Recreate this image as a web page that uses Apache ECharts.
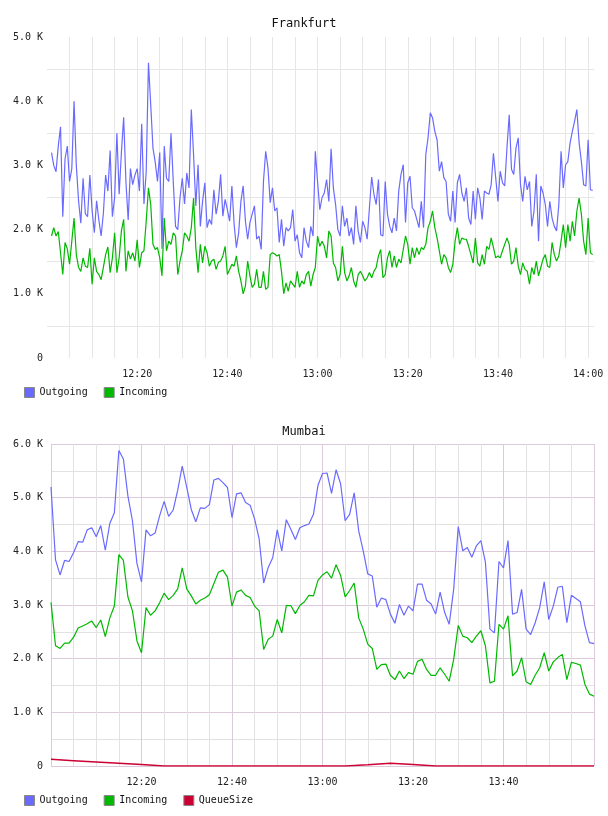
<!DOCTYPE html>
<html>
<head>
<meta charset="utf-8">
<script src="https://cdn.jsdelivr.net/npm/echarts@6/dist/echarts.min.js"></script>
<style>
  html, body { margin: 0; padding: 0; background: #fff; }
  .chart { width: 608px; height: 408px; }
</style>
</head>
<body>
<div id="frankfurt" class="chart"></div>
<div id="mumbai" class="chart"></div>
<script>
// Frankfurt: samples every ~30s from 12:01 to 14:01
const fraOutgoing = [
  3200, 3000, 2900, 3300, 3600, 2200, 3100, 3300, 2750, 2950, 4000, 3000, 2450, 2100, 2800, 2250, 2200, 2850,
  2300, 1950, 2450, 2150, 1900, 2250, 2850, 2600, 3230, 2200, 2500, 3500, 2550, 3200, 3750, 2750, 2150, 2950, 2700, 2850,
  2950, 2600, 3650, 2400, 2900, 4600, 3950, 3270, 3050, 2750, 3200, 1700, 3300, 2800, 2750, 3500, 2750, 2050, 2000, 2500, 2800, 2400,
  2880, 2650, 3870, 3170, 2370, 3010, 2050, 2440, 2730, 2030, 2160, 2080, 2620, 2240, 2440, 2860, 2210, 2470, 2310, 2130,
  2680, 2080, 1720, 1950, 2440, 2680, 2130, 1850, 2110, 2240, 2370, 1850, 1900, 1690, 2750, 3220, 2960, 2420, 2650, 2290,
  2340, 1800, 2160, 1740, 2030, 1980, 2030, 2310, 1820, 1920, 1640, 1560, 2030, 1820, 1720, 2050, 1900, 3220, 2750, 2310, 2500,
  2570, 2780, 2440, 3260, 2650, 2390, 2000, 1900, 2370, 2050, 2180, 1900, 2030, 1770, 2370, 1980, 1800, 2130,
  2030, 1850, 2340, 2820, 2550, 2390, 2780, 1920, 1900, 2750, 2240, 2050, 1950, 2180, 1980, 2600, 2860, 3010, 2110,
  2730, 2830, 2340, 2290, 2160, 2030, 2440, 2030, 3170, 3430, 3820, 3740, 3530, 3400, 2910, 3060, 2810, 2750, 2240, 2130,
  2600, 2110, 2730, 2860,
  2570, 2440, 2650, 2180, 2080, 2600, 2160, 2650, 2490, 2160, 2600, 2570, 2550, 2700, 3190, 2810, 2440, 2910, 2730, 2680,
  3270, 3790, 2940, 2860, 3270, 3430, 2700, 2440, 2830, 2620, 2750, 2050, 2290, 2860, 1820, 2680, 2570, 2390, 2050, 2440,
  2180, 2050, 1980, 2390, 3220, 2650, 3010, 3060, 3350, 3530, 3690, 3870, 3350, 3060, 2700, 2680, 3400, 2620, 2610
];
const fraIncoming = [
  1900, 2030, 1900, 1970, 1640, 1300, 1800, 1700, 1460, 1820, 2180,
  1610, 1410, 1350, 1560, 1430, 1410, 1710, 1150, 1560, 1350, 1300, 1220, 1410, 1610, 1730, 1330, 1560, 1950, 1330,
  1560, 1980, 2160, 1350, 1670, 1540, 1640, 1510, 1840, 1410, 1640, 1670, 2130, 2650,
  2390, 1770, 1690, 1720, 1560, 1280, 2180, 1670, 1820, 1770, 1950, 1900, 1300, 1510, 1670, 1950,
  1900, 1820, 2030, 2490, 1720, 1330, 1770, 1480, 1740, 1640, 1430, 1510, 1540, 1380, 1490, 1510, 1590, 1740, 1300, 1380,
  1460, 1430, 1590, 1350, 1200, 1000, 1120, 1510, 1280, 1100, 1150, 1380, 1100, 1100, 1350, 1070, 1100, 1610, 1640, 1620,
  1590, 1610, 1350, 1000, 1170, 1040, 1200, 1150, 1100, 1350, 1100, 1200, 1150, 1300, 1350, 1120, 1300, 1410, 1900, 1740, 1820,
  1740, 1560, 1980, 1900, 1480, 1410, 1200, 1300, 1740, 1330, 1200, 1280, 1410, 1200, 1100, 1300, 1350, 1280, 1200, 1250,
  1330, 1250, 1350, 1410, 1590, 1690, 1250, 1300, 1560, 1670, 1410, 1590, 1410, 1540, 1480, 1690, 1900, 1770, 1460, 1720,
  1560, 1720, 1610, 1720, 1690, 1770, 2030, 2130, 2290, 2030, 1870, 1670, 1460, 1610, 1560, 1410, 1330, 1460, 1820, 2030, 1770,
  1870, 1850, 1850, 1740, 1610, 1480, 1870, 1480, 1430, 1610, 1460, 1740, 1690, 1870, 1720, 1560, 1590, 1560, 1670, 1770,
  1870, 1770, 1460, 1510, 1720, 1430, 1300, 1480, 1380, 1350, 1150, 1410, 1300, 1510, 1280, 1410, 1540, 1610, 1430, 1410,
  1800, 1610, 1510, 1590, 1820, 2080, 1720, 2080, 1820, 2130, 1900, 2290, 2490, 2240, 1820, 1610, 2180, 1640, 1610
];

// Mumbai: one sample per minute, 12:00 to 14:00; queue every 5 minutes
const mumOutgoing = [
  5200, 3840, 3560, 3830, 3810, 3980, 4180, 4170, 4400, 4440, 4270, 4480, 4020, 4520, 4720, 5880, 5720, 5030, 4570, 3770,
  3430, 4400, 4290, 4340, 4660, 4930, 4650, 4770, 5140, 5590, 5190, 4780, 4550, 4810, 4800, 4870, 5330, 5360, 5280, 5190,
  4630, 5070, 5090, 4910, 4860, 4600, 4230, 3410, 3700, 3880, 4400, 4010, 4590, 4410, 4220, 4440,
  4480, 4510, 4690, 5230, 5450, 5460, 5080, 5520, 5260, 4570, 4690, 5090, 4380, 4010, 3580, 3540, 2960, 3130, 3100, 2830,
  2660, 3010, 2810, 2980, 2890, 3390, 3390, 3090, 3020, 2830, 3240, 2860, 2640, 3300, 4460, 4010, 4070, 3890, 4100, 4200,
  3800, 2550, 2480, 3810, 3690, 4200, 2830, 2860, 3290, 2550, 2450, 2670, 2950, 3430, 2730, 2980, 3330, 3350, 2670, 3180,
  3120, 3060, 2610, 2300, 2280
];
const mumIncoming = [
  3050, 2240, 2190, 2290, 2290, 2400, 2570, 2610, 2650, 2700, 2580, 2720, 2410, 2760, 2980, 3940, 3830, 3150, 2890, 2330,
  2110, 2950, 2810, 2890, 3040, 3220, 3100, 3180, 3300, 3690, 3300, 3170, 3020, 3090, 3130, 3190, 3400, 3610, 3650, 3520,
  2980, 3240, 3280, 3180, 3140, 2980, 2890, 2170, 2360, 2420, 2730, 2480, 2990, 2990, 2840, 2990,
  3060, 3180, 3170, 3460, 3560, 3620, 3500, 3750, 3550, 3150, 3270, 3410, 2760, 2550, 2270, 2190, 1800, 1890, 1900, 1690,
  1610, 1770, 1630, 1740, 1710, 1950, 1990, 1800, 1690, 1690, 1830, 1710, 1580, 1990, 2620, 2420, 2390, 2300, 2420, 2520,
  2240, 1550, 1580, 2640, 2550, 2800, 1680, 1770, 2020, 1570, 1520, 1690, 1830, 2110, 1770, 1940, 2020, 2080, 1610, 1930,
  1910, 1880, 1520, 1340, 1300
];
const mumQueue = [124, 100, 76, 52, 26, 0, 0, 0, 0, 0, 0, 0, 0, 0, 24, 50, 28, 0, 0, 0, 0, 0, 0, 0, 0];

const FONT = 'DejaVu Sans Mono';
const BLUE = '#6a6aff';
const GREEN = '#00b800';
const RED = '#cc0033';

// minutes after 12:00 -> "HH:MM"
function clock (min) {
  const h = 12 + Math.floor(min / 60);
  const m = min % 60;
  return h + ':' + String(m).padStart(2, '0');
}

function kLabel (v) {
  if (v % 1000 !== 0) return '';
  return v === 0 ? '0' : (v / 1000).toFixed(1) + ' K';
}

// spread samples evenly between start and end minute
function timed (values, start, end) {
  const step = (end - start) / (values.length - 1);
  return values.map((v, i) => [start + i * step, v]);
}

function line (name, color, data, width) {
  return {
    name: name,
    type: 'line',
    symbol: 'none',
    data: data,
    itemStyle: { color: color },
    lineStyle: { color: color, width: width || 1.2 }
  };
}

function baseOption (title, names) {
  return {
    animation: false,
    title: {
      text: title,
      left: 'center',
      top: 13,
      textStyle: { fontFamily: FONT, fontSize: 12, fontWeight: 'normal', color: '#111' }
    },
    legend: {
      data: names,
      left: 24,
      top: 387,
      padding: 0,
      icon: 'rect',
      itemWidth: 10,
      itemHeight: 10,
      itemGap: 16,
      itemStyle: { borderColor: '#888', borderWidth: 1 },
      textStyle: { fontFamily: FONT, fontSize: 10, color: '#111' }
    }
  };
}

const fraChart = echarts.init(document.getElementById('frankfurt'));
const fraOption = baseOption('Frankfurt', ['Outgoing', 'Incoming']);
fraOption.grid = { left: 47, right: 14, top: 37, bottom: 50 };
fraOption.xAxis = {
  type: 'value',
  min: 0,
  max: 121.3,
  interval: 5,
  axisLine: { show: false },
  axisTick: { show: false },
  axisLabel: {
    margin: 11,
    fontFamily: FONT,
    fontSize: 10,
    color: '#222',
    formatter: v => (v > 0 && v % 20 === 0) ? clock(v) : ''
  },
  splitLine: { show: true, showMinLine: false, showMaxLine: false, lineStyle: { color: '#e6e6e6' } }
};
fraOption.yAxis = {
  type: 'value',
  min: 0,
  max: 5000,
  interval: 500,
  axisLine: { show: false },
  axisTick: { show: false },
  axisLabel: { margin: 4, fontFamily: FONT, fontSize: 10, color: '#222', formatter: kLabel },
  splitLine: { show: true, lineStyle: { color: ['rgba(0,0,0,0)', '#e6e6e6'] } }
};
fraOption.series = [
  line('Outgoing', BLUE, timed(fraOutgoing, 1, 121)),
  line('Incoming', GREEN, timed(fraIncoming, 1, 121))
];
fraChart.setOption(fraOption);

const PURPLE = '#dccadc';
const GREY = '#e2e2e2';
const mumChart = echarts.init(document.getElementById('mumbai'));
const mumOption = baseOption('Mumbai', ['Outgoing', 'Incoming', 'QueueSize']);
mumOption.grid = { left: 51, right: 14, top: 36, bottom: 50 };
mumOption.xAxis = {
  type: 'value',
  min: 0,
  max: 120,
  interval: 5,
  axisLine: { show: false },
  axisTick: { show: false },
  axisLabel: {
    margin: 11,
    fontFamily: FONT,
    fontSize: 10,
    color: '#222',
    formatter: v => (v > 0 && v < 120 && v % 20 === 0) ? clock(v) : ''
  },
  splitLine: { show: true, lineStyle: { color: [PURPLE, GREY, GREY, GREY] } }
};
mumOption.yAxis = {
  type: 'value',
  min: 0,
  max: 6000,
  interval: 500,
  axisLine: { show: false },
  axisTick: { show: false },
  axisLabel: { margin: 8, fontFamily: FONT, fontSize: 10, color: '#222', formatter: kLabel },
  splitLine: { show: true, lineStyle: { color: [PURPLE, GREY] } }
};
mumOption.series = [
  line('Outgoing', BLUE, timed(mumOutgoing, 0, 120)),
  line('Incoming', GREEN, timed(mumIncoming, 0, 120)),
  line('QueueSize', RED, timed(mumQueue, 0, 120), 1.5)
];
mumChart.setOption(mumOption);
</script>
</body>
</html>
